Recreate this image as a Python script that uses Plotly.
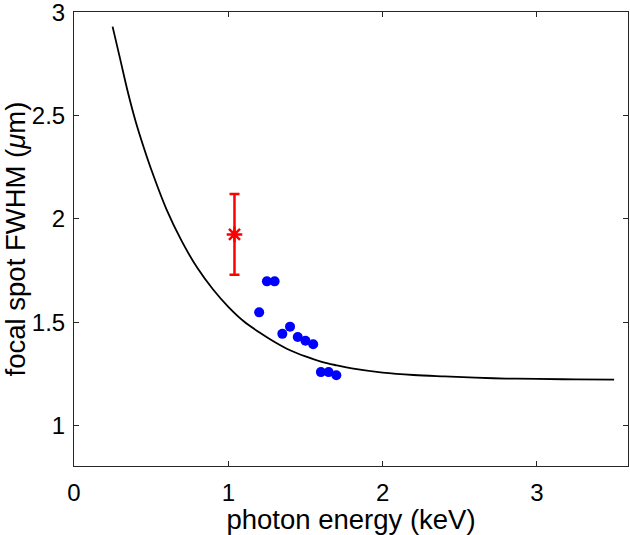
import plotly.graph_objects as go

# model curve
curve_x = [0.25, 0.30, 0.35, 0.40, 0.45, 0.50, 0.60, 0.70, 0.80, 0.90, 1.00,
           1.10, 1.20, 1.30, 1.40, 1.50, 1.60, 1.70, 1.80, 2.00, 2.20, 2.40,
           2.60, 2.80, 3.00, 3.25, 3.50]
curve_y = [2.93, 2.77, 2.61, 2.47, 2.35, 2.24, 2.045, 1.89, 1.762, 1.66, 1.575,
           1.505, 1.452, 1.405, 1.365, 1.335, 1.31, 1.292, 1.277, 1.257, 1.245, 1.238,
           1.232, 1.228, 1.226, 1.224, 1.223]

# measured points (blue)
meas_x = [1.20, 1.25, 1.30, 1.35, 1.40, 1.45, 1.50, 1.55, 1.60, 1.65, 1.70]
meas_y = [1.548, 1.698, 1.698, 1.444, 1.479, 1.429, 1.411, 1.394, 1.259, 1.259, 1.244]

# red point with error bar
red_x = [1.04]
red_y = [1.925]
red_err = [0.195]

x_ticks = [0, 1, 2, 3]
y_ticks = [1, 1.5, 2, 2.5, 3]
y_ticktext = ["1", "1.5", "2", "2.5", "3"]

fig = go.Figure()
fig.add_trace(go.Scatter(x=curve_x, y=curve_y, mode="lines",
                         line=dict(color="black", width=1.8, shape="spline"),
                         showlegend=False))
fig.add_trace(go.Scatter(x=meas_x, y=meas_y, mode="markers",
                         marker=dict(color="#0000ff", size=10, line=dict(width=0)),
                         showlegend=False))
fig.add_trace(go.Scatter(x=red_x, y=red_y, mode="markers",
                         marker=dict(symbol="asterisk-open", size=13, color="#ff0000",
                                     line=dict(color="#ff0000", width=2.5)),
                         error_y=dict(type="data", array=red_err, visible=True,
                                      color="#ff0000", thickness=2.5, width=5),
                         showlegend=False))

font_family = "Liberation Sans, Arial, sans-serif"
axis_common = dict(showline=True, mirror="ticks", linecolor="#262626", linewidth=1,
                   ticks="inside", ticklen=5, tickcolor="#262626", showgrid=False,
                   zeroline=False, automargin=False, ticklabeloverflow="allow",
                   tickfont=dict(family=font_family, size=24, color="#000000"))

fig.update_layout(
    width=630, height=535,
    margin=dict(l=74, r=2, t=12, b=69),
    plot_bgcolor="white", paper_bgcolor="white",
    font=dict(family=font_family, size=24, color="#000000"),
    xaxis=dict(range=[0, 3.59], tickvals=x_ticks, ticktext=[str(v) for v in x_ticks],
               ticklabelstandoff=5,
               title=dict(text="photon energy (keV)", standoff=9,
                          font=dict(family=font_family, size=27.5)),
               **axis_common),
    yaxis=dict(range=[0.805, 3.0005], tickvals=y_ticks, ticktext=y_ticktext,
               ticklabelstandoff=3,
               title=dict(text="focal spot FWHM (<i>μ</i>m)", standoff=1,
                          font=dict(family=font_family, size=27.5)),
               **axis_common),
)

fig.write_html("out.html", config={"displayModeBar": False},
               post_script="document.body.style.margin='0';document.body.style.overflow='hidden';")
